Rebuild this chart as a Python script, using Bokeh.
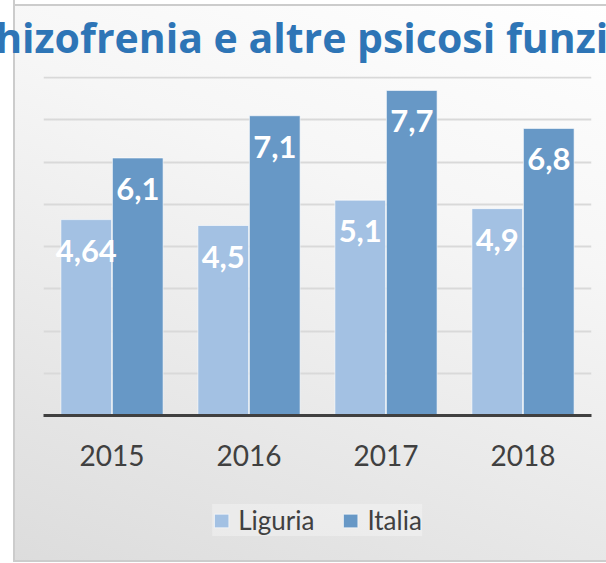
from bokeh.plotting import figure
from bokeh.layouts import column
from bokeh.models import FactorRange, Range1d, FixedTicker, ColumnDataSource, Legend, LegendItem, Title
from bokeh.transform import dodge
from bokeh.core.properties import value
from bokeh.embed import file_html
from bokeh.resources import INLINE

# ---- data ----
years = ["2015", "2016", "2017", "2018"]
liguria = [4.64, 4.5, 5.1, 4.9]
italia = [6.1, 7.1, 7.7, 6.8]
liguria_labels = ["4,64", "4,5", "5,1", "4,9"]
italia_labels = ["6,1", "7,1", "7,7", "6,8"]
y_ticks = [0, 1, 2, 3, 4, 5, 6, 7, 8]
series_names = ["Liguria", "Italia"]
title_text = "Schizofrenia e altre psicosi funzionali"

LIG_COLOR = "#A3C1E3"
ITA_COLOR = "#6798C6"
TEXT_COLOR = "#404040"

src = ColumnDataSource(dict(years=years, liguria=liguria, italia=italia,
                            lig_lab=liguria_labels, ita_lab=italia_labels))

W = 606

# ---------------- main chart ----------------
p = figure(x_range=FactorRange(*years, range_padding=0),
           y_range=Range1d(y_ticks[0], y_ticks[-1] + 0.03),
           width=W, height=484,
           output_backend="svg", toolbar_location=None,
           min_border_left=43, min_border_right=15,
           min_border_top=81, min_border_bottom=63)
p.border_fill_alpha = 0
p.background_fill_alpha = 0
p.outline_line_color = None

p.title = Title(text=title_text, align="left", offset=-92, text_font="Open Sans",
                text_font_style="bold", text_font_size="41px",
                text_color="#2E75B6", standoff=24)

off = 0.188
bw = 0.37
r_lig = p.vbar(x=dodge("years", -off, range=p.x_range), top="liguria", width=bw,
               source=src, fill_color=LIG_COLOR, line_color="white", line_alpha=0.6, line_width=1)
r_ita = p.vbar(x=dodge("years", off, range=p.x_range), top="italia", width=bw,
               source=src, fill_color=ITA_COLOR, line_color="white", line_alpha=0.6, line_width=1)

for col, lab, d in (("liguria", "lig_lab", -off), ("italia", "ita_lab", off)):
    p.text(x=dodge("years", d, range=p.x_range), y=col, text=lab, source=src,
           text_color="white", text_font=value("Lato"), text_font_style="bold",
           text_font_size="31px", text_align="center", text_baseline="middle",
           y_offset=31)

p.yaxis.visible = False
p.xgrid.visible = False
p.ygrid.ticker = FixedTicker(ticks=y_ticks)
p.ygrid.grid_line_color = "#D9D9D9"
p.ygrid.grid_line_width = 2

xa = p.xaxis[0]
xa.major_tick_line_color = None
xa.minor_tick_line_color = None
xa.major_tick_out = 0
xa.major_tick_in = 0
xa.axis_line_color = TEXT_COLOR
xa.axis_line_width = 3
xa.major_label_text_font = "Lato"
xa.major_label_text_font_size = "28px"
xa.major_label_text_color = TEXT_COLOR
xa.major_label_standoff = 29

# ---------------- legend strip ----------------
pl = figure(x_range=FactorRange(*years, range_padding=0),
            y_range=Range1d(100, 101),
            width=W, height=84,
            output_backend="svg", toolbar_location=None,
            x_axis_type=None, y_axis_type=None,
            min_border_left=43, min_border_right=15,
            min_border_top=0, min_border_bottom=0)
pl.border_fill_alpha = 0
pl.background_fill_alpha = 0
pl.outline_line_color = None
pl.xgrid.visible = False
pl.ygrid.visible = False
l_lig = pl.vbar(x=dodge("years", -off, range=pl.x_range), top="liguria", width=bw,
                source=src, fill_color=LIG_COLOR, line_color="white", line_alpha=0.6, line_width=1)
l_ita = pl.vbar(x=dodge("years", off, range=pl.x_range), top="italia", width=bw,
                source=src, fill_color=ITA_COLOR, line_color="white", line_alpha=0.6, line_width=1)

legend = Legend(items=[LegendItem(label=series_names[0], renderers=[l_lig]),
                       LegendItem(label=series_names[1], renderers=[l_ita])],
                orientation="horizontal", location="center",
                glyph_width=18, glyph_height=17, label_standoff=8, spacing=27,
                label_text_font="Lato", label_text_font_size="26px",
                label_text_color=TEXT_COLOR,
                padding=20, margin=0,
                background_fill_color="white", background_fill_alpha=0.3,
                border_line_color=None)
pl.add_layout(legend, "center")

layout = column(p, pl, spacing=0)
layout.styles = {
    "margin-top": "-6px",
    "background": ("linear-gradient(to right, #FFFFFF 0px, #FFFFFF 13px, #CCCCCC 13px, #CCCCCC 15px, "
                   "rgba(255,255,255,0) 15px), "
                   "linear-gradient(to top, #CCCCCC 0px, #CCCCCC 2px, rgba(255,255,255,0) 2px), "
                   "linear-gradient(to bottom, #FFFFFF 0px, #FFFFFF 10px, #CCCCCC 10px, #CCCCCC 12px, "
                   "rgba(255,255,255,0) 12px), "
                   "linear-gradient(200deg, #FFFFFF 0%, #F6F6F6 35%, #DCDCDC 100%)"),
}

open("out.html", "w").write(file_html(layout, INLINE))
